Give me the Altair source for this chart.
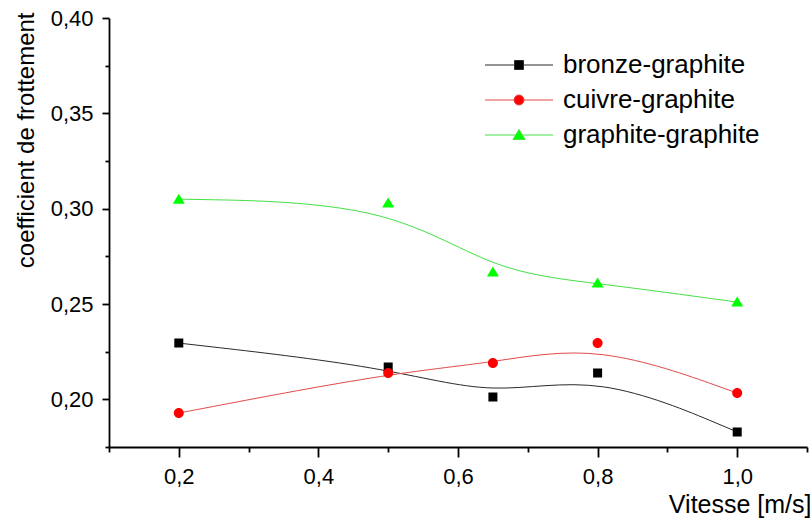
import altair as alt
import pandas as pd

# ---- data ----
vitesse = [0.2, 0.5, 0.65, 0.8, 1.0]
series_names = ["bronze-graphite", "cuivre-graphite", "graphite-graphite"]
bronze = [0.2295, 0.217, 0.2012, 0.2138, 0.1829]
cuivre = [0.1928, 0.2138, 0.219, 0.2295, 0.2033]
graphite = [0.305, 0.303, 0.2668, 0.261, 0.251]

x_major_ticks = [0.2, 0.4, 0.6, 0.8, 1.0]
x_minor_ticks = [0.1, 0.3, 0.5, 0.7, 0.9, 1.1]
y_major_ticks = [0.20, 0.25, 0.30, 0.35, 0.40]
y_minor_ticks = [0.175, 0.225, 0.275, 0.325, 0.375]

marker_colors = ["#000000", "#ff0000", "#00ff00"]
line_colors = ["#2a2a2a", "#e24a4a", "#44e044"]
# custom symbol paths: line stubs (stroke only, for the legend) + filled marker
marker_paths = [
    "M-6.8,0H-0.9M0.9,0H6.8M-0.9,-0.9H0.9V0.9H-0.9Z",
    "M-6.8,0H-1M1,0H6.8M1,0A1,1 0 1,1 -1,0A1,1 0 1,1 1,0Z",
    "M-6.8,0H-0.7M0.7,0H6.8M0,-1.1L1.2,0.9H-1.2Z",
]

rows = []
for name, vals in zip(series_names, [bronze, cuivre, graphite]):
    for xv, yv in zip(vitesse, vals):
        rows.append({"vitesse": xv, "coef": yv, "series": name})
df = pd.DataFrame(rows)

FONT = "Liberation Sans"

x_scale = alt.Scale(domain=[0.1, 1.1], nice=False, zero=False)
y_scale = alt.Scale(domain=[0.175, 0.40], nice=False, zero=False)
stroke_scale = alt.Scale(domain=series_names, range=line_colors)
fill_scale = alt.Scale(domain=series_names, range=marker_colors)
shape_scale = alt.Scale(domain=series_names, range=marker_paths)

x_axis_major = alt.Axis(
    orient="bottom",
    values=x_major_ticks,
    labelExpr="replace(format(datum.value, '.1f'), '.', ',')",
    tickSize=10, tickWidth=1.8, tickColor="black",
    domainColor="black", domainWidth=1.8,
    labelFont=FONT, labelFontSize=22, labelColor="black", labelPadding=9,
    title="Vitesse [m/s]", titleFont=FONT, titleFontSize=25,
    titleFontWeight="normal", titleColor="black",
    titleAlign="right", titleBaseline="alphabetic", titleX=702, titleY=65,
    grid=False,
)
y_axis_major = alt.Axis(
    orient="left",
    values=y_major_ticks,
    labelExpr="replace(format(datum.value, '.2f'), '.', ',')",
    tickSize=7, tickWidth=1.8, tickColor="black",
    domainColor="black", domainWidth=1.8,
    labelFont=FONT, labelFontSize=22, labelColor="black", labelPadding=9,
    title="coefficient de frottement", titleFont=FONT, titleFontSize=24,
    titleFontWeight="normal", titleColor="black", titleAngle=270,
    titleAlign="right", titleBaseline="alphabetic", titleX=-76, titleY=-6,
    grid=False,
)
x_axis_minor = alt.Axis(orient="bottom", values=x_minor_ticks, labels=False,
                        domain=False, tickSize=5, tickWidth=1.8,
                        tickColor="black", title=None, grid=False)
y_axis_minor = alt.Axis(orient="left", values=y_minor_ticks, labels=False,
                        domain=False, tickSize=4, tickWidth=1.8,
                        tickColor="black", title=None, grid=False)

leg = alt.Legend(
    title=None, orient="none", legendX=397, legendY=34,
    labelFont=FONT, labelFontSize=26, labelColor="black", labelLimit=0,
    labelOffset=31, symbolSize=100, symbolStrokeWidth=1,
    rowPadding=9, padding=0,
)

lines = alt.Chart(df).mark_line(interpolate="basis", strokeWidth=1).encode(
    x=alt.X("vitesse:Q", scale=x_scale, axis=x_axis_minor),
    y=alt.Y("coef:Q", scale=y_scale, axis=y_axis_minor),
    stroke=alt.Stroke("series:N", scale=stroke_scale, legend=leg),
    order="vitesse:Q",
)

points = alt.Chart(df).mark_point(filled=True, size=100, opacity=1).encode(
    x=alt.X("vitesse:Q", scale=x_scale, axis=x_axis_major),
    y=alt.Y("coef:Q", scale=y_scale, axis=y_axis_major),
    fill=alt.Fill("series:N", scale=fill_scale, legend=leg),
    stroke=alt.Stroke("series:N", scale=stroke_scale, legend=leg),
    shape=alt.Shape("series:N", scale=shape_scale, legend=leg),
    strokeWidth=alt.value(0),
)

chart = (
    alt.layer(lines, points)
    .resolve_axis(x="independent", y="independent")
    .properties(
        width=698, height=429,
        autosize=alt.AutoSizeParams(type="none"),
        padding={"left": 109, "top": 18, "right": 5, "bottom": 71},
        background="white",
    )
    .configure_view(stroke=None)
)

chart.save("out.html", embed_options={"renderer": "svg", "actions": False})
